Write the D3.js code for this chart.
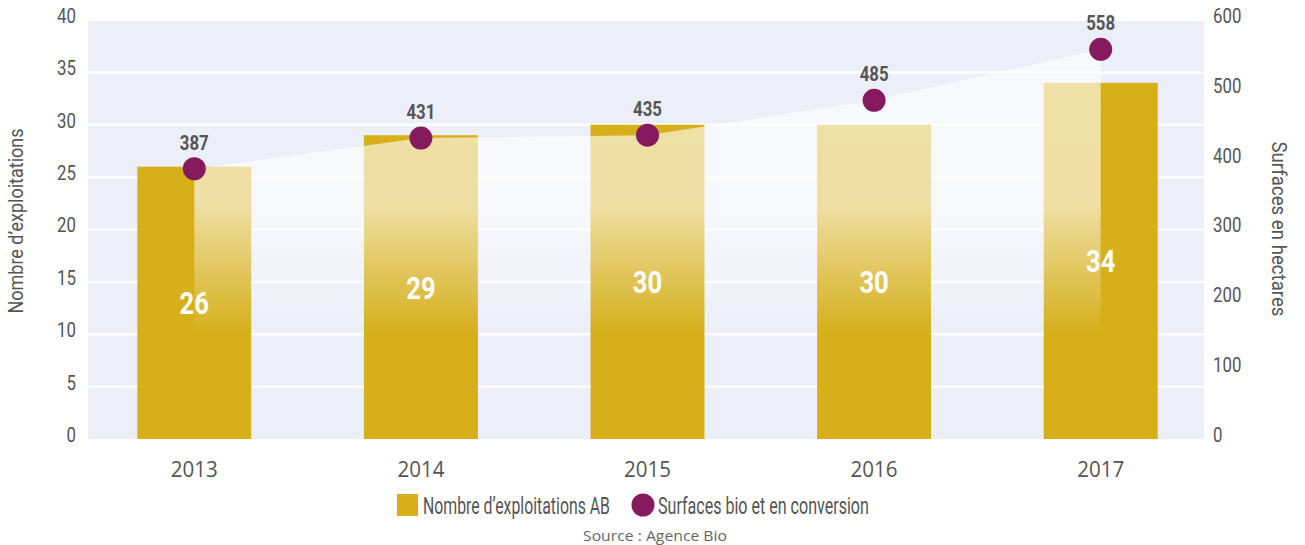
<!DOCTYPE html>
<html lang="fr">
<head>
<meta charset="utf-8">
<script src="https://cdn.jsdelivr.net/npm/d3@7"></script>
<style>
  html, body { margin: 0; padding: 0; background: #ffffff; }
  svg { display: block; }
  .narrow { font-family: "Roboto", "DejaVu Sans", sans-serif; }
  .wide { font-family: "Open Sans", "Lato", sans-serif; }
</style>
</head>
<body>
<svg id="chart" width="1305" height="545"></svg>
<script>
// Années, nombre d'exploitations AB et surfaces (ha)
const years = ["2013", "2014", "2015", "2016", "2017"];
const farms = [26, 29, 30, 30, 34];
const surfaces = [387, 431, 435, 485, 558];
const leftTicks = [0, 5, 10, 15, 20, 25, 30, 35, 40];
const rightTicks = [0, 100, 200, 300, 400, 500, 600];
const legendLabels = ["Nombre d’exploitations AB", "Surfaces bio et en conversion"];

const GOLD = "#d6af1b";
const PURPLE = "#861a5f";
const GREY = "#555555";

const svg = d3.select("#chart");
const plot = { left: 88, right: 1204, top: 21, bottom: 439 };

const x = d3.scaleBand().domain(years).range([81, 1214]).paddingInner(0.497).paddingOuter(0.2485);
const yL = d3.scaleLinear().domain([0, 40]).range([plot.bottom, 20]);
const yR = d3.scaleLinear().domain([0, 600]).range([plot.bottom, 20]);
const cx = d => x(d) + x.bandwidth() / 2;

const rows = years.map((yr, i) => ({ year: yr, farms: farms[i], surface: surfaces[i] }));

// Resserre horizontalement un texte pour imiter une police étroite
function squeeze(sel, ratio) {
  sel.each(function () {
    const w = this.getComputedTextLength();
    d3.select(this).attr("textLength", w * ratio).attr("lengthAdjust", "spacingAndGlyphs");
  });
}

// Texte étroit placé par une mise à l'échelle horizontale vers une largeur donnée
function narrowText(parent, tx, ty, str, size, width) {
  const g = parent.append("g");
  const t = g.append("text")
    .attr("class", "narrow")
    .attr("font-size", size).attr("fill", GREY)
    .text(str);
  const w = t.node().getComputedTextLength();
  g.attr("transform", `translate(${tx},${ty}) scale(${width / w},1)`);
  return g;
}

// Gradient blanc de la zone des surfaces
const defs = svg.append("defs");
const grad = defs.append("linearGradient")
  .attr("id", "areaFade").attr("gradientUnits", "userSpaceOnUse")
  .attr("x1", 0).attr("x2", 0).attr("y1", 20).attr("y2", plot.bottom);
grad.append("stop").attr("offset", 0).attr("stop-color", "#fff").attr("stop-opacity", 0.62);
grad.append("stop").attr("offset", 0.44).attr("stop-color", "#fff").attr("stop-opacity", 0.6);
grad.append("stop").attr("offset", 0.75).attr("stop-color", "#fff").attr("stop-opacity", 0);
grad.append("stop").attr("offset", 1).attr("stop-color", "#fff").attr("stop-opacity", 0);

// Fond du graphique
svg.append("rect")
  .attr("x", plot.left).attr("y", plot.top)
  .attr("width", plot.right - plot.left).attr("height", plot.bottom - plot.top)
  .attr("fill", "#eceff8");

// Lignes de grille blanches
svg.append("g").selectAll("line")
  .data(leftTicks.filter(t => t > 0 && t < 40))
  .join("line")
  .attr("x1", plot.left).attr("x2", plot.right)
  .attr("y1", d => yL(d)).attr("y2", d => yL(d))
  .attr("stroke", "#ffffff").attr("stroke-width", 2.5);

// Barres : nombre d'exploitations
svg.append("g").selectAll("rect")
  .data(rows)
  .join("rect")
  .attr("x", d => x(d.year)).attr("width", x.bandwidth())
  .attr("y", d => yL(d.farms)).attr("height", d => yL(0) - yL(d.farms))
  .attr("fill", GOLD);

// Zone des surfaces en voile blanc
const area = d3.area()
  .x(d => cx(d.year))
  .y0(plot.bottom)
  .y1(d => yR(d.surface));
svg.append("path")
  .datum(rows)
  .attr("d", area)
  .attr("fill", "url(#areaFade)");

// Points des surfaces
svg.append("g").selectAll("circle")
  .data(rows)
  .join("circle")
  .attr("cx", d => cx(d.year)).attr("cy", d => yR(d.surface))
  .attr("r", 11.5).attr("fill", PURPLE);

// Valeurs des surfaces
svg.append("g").selectAll("text")
  .data(rows)
  .join("text")
  .attr("class", "narrow")
  .attr("x", d => cx(d.year)).attr("y", d => yR(d.surface) - 19)
  .attr("text-anchor", "middle")
  .attr("font-size", 20).attr("font-weight", "bold").attr("fill", GREY)
  .text(d => d.surface)
  .call(squeeze, 0.84);

// Valeurs des barres
svg.append("g").selectAll("text")
  .data(rows)
  .join("text")
  .attr("class", "narrow")
  .attr("x", d => cx(d.year))
  .attr("y", d => (yL(d.farms) + yL(0)) / 2)
  .attr("dy", "0.36em")
  .attr("text-anchor", "middle")
  .attr("font-size", 32).attr("font-weight", "bold").attr("fill", "#ffffff")
  .text(d => d.farms)
  .call(squeeze, 0.8);

// Axe gauche
const axL = svg.append("g")
  .attr("transform", `translate(80,0)`)
  .call(d3.axisLeft(yL).tickValues(leftTicks).tickSize(0).tickPadding(4));
axL.select(".domain").remove();
axL.selectAll("text")
  .attr("class", "narrow").attr("font-size", 20).attr("fill", GREY).attr("dy", "0.12em")
  .call(squeeze, 0.84);

// Axe droit
const axR = svg.append("g")
  .attr("transform", `translate(1209,0)`)
  .call(d3.axisRight(yR).tickValues(rightTicks).tickSize(0).tickPadding(4));
axR.select(".domain").remove();
axR.selectAll("text")
  .attr("class", "narrow").attr("font-size", 20).attr("fill", GREY).attr("dy", "0.12em")
  .call(squeeze, 0.84);

// Axe des années
const axX = svg.append("g")
  .attr("transform", `translate(0,${plot.bottom})`)
  .call(d3.axisBottom(x).tickSize(0).tickPadding(0));
axX.select(".domain").remove();
axX.selectAll("text")
  .attr("class", "wide").attr("font-size", 22).attr("fill", GREY)
  .attr("y", 38).attr("dy", 0)
  .attr("textLength", 47).attr("lengthAdjust", "spacingAndGlyphs");

// Titres des axes
svg.append("text")
  .attr("class", "narrow")
  .attr("transform", "translate(23,221) rotate(-90)")
  .attr("text-anchor", "middle")
  .attr("font-size", 20).attr("fill", GREY)
  .attr("textLength", 185).attr("lengthAdjust", "spacingAndGlyphs")
  .text("Nombre d’exploitations");
svg.append("text")
  .attr("class", "narrow")
  .attr("transform", "translate(1272,229) rotate(90)")
  .attr("text-anchor", "middle")
  .attr("font-size", 20).attr("fill", GREY)
  .attr("textLength", 175).attr("lengthAdjust", "spacingAndGlyphs")
  .text("Surfaces en hectares");

// Légende
const legend = svg.append("g");
legend.append("rect")
  .attr("x", 397).attr("y", 494).attr("width", 21).attr("height", 22)
  .attr("fill", GOLD);
narrowText(legend, 423, 514, legendLabels[0], 23, 187);
legend.append("circle")
  .attr("cx", 643).attr("cy", 505).attr("r", 11.5).attr("fill", PURPLE);
narrowText(legend, 658, 514, legendLabels[1], 23, 211);

// Source
svg.append("text")
  .attr("class", "wide")
  .attr("x", 655).attr("y", 541)
  .attr("text-anchor", "middle")
  .attr("font-size", 15).attr("fill", "#666666")
  .attr("textLength", 144).attr("lengthAdjust", "spacingAndGlyphs")
  .text("Source : Agence Bio");
</script>
</body>
</html>
